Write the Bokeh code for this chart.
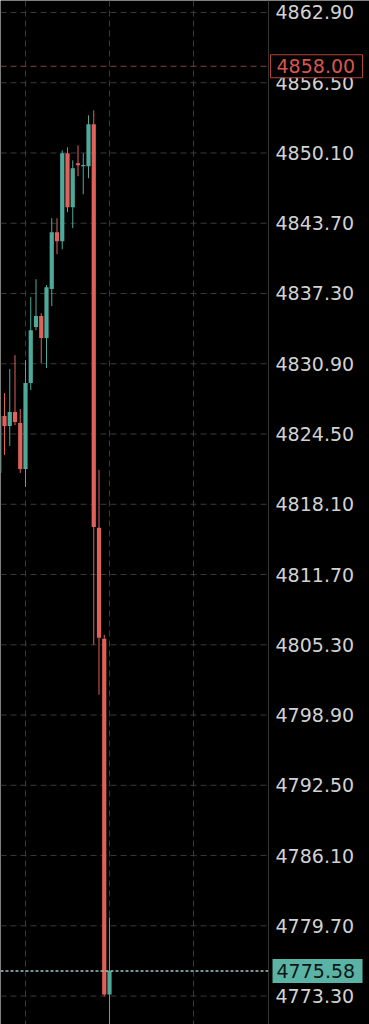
from bokeh.plotting import figure
from bokeh.models import Span, Range1d, ColumnDataSource
from bokeh.core.properties import value
from bokeh.embed import file_html
from bokeh.resources import INLINE

# ---- data ----
idx = list(range(-1, 21))
opens = [4820.95, 4826.14, 4825.23, 4826.50, 4825.50, 4821.32, 4829.14, 4834.24, 4835.24, 4833.24,
         4837.70, 4842.88, 4842.06, 4850.07, 4845.16, 4849.16, 4848.89, 4848.89, 4852.71, 4815.95,
         4805.85, 4773.45]
highs = [4826.70, 4828.23, 4830.42, 4831.69, 4826.78, 4831.23, 4836.97, 4838.60, 4835.51, 4838.06,
         4844.16, 4844.16, 4850.34, 4850.62, 4849.43, 4850.80, 4850.07, 4853.53, 4853.98, 4821.23,
         4806.21, 4780.46]
lows = [4820.50, 4822.59, 4823.41, 4825.30, 4820.95, 4819.68, 4828.50, 4833.96, 4830.96, 4830.51,
        4836.15, 4840.88, 4841.33, 4844.70, 4843.25, 4847.98, 4846.34, 4847.80, 4805.30, 4800.75,
        4773.27, 4769.00]
closes = [4826.14, 4825.23, 4826.50, 4825.59, 4821.32, 4829.14, 4833.96, 4835.24, 4833.24, 4837.88,
          4842.88, 4842.06, 4850.07, 4845.16, 4848.71, 4848.98, 4849.00, 4852.71, 4816.04, 4805.94,
          4773.45, 4775.58]

y_ticks = [4773.30, 4779.70, 4786.10, 4792.50, 4798.90, 4805.30, 4811.70, 4818.10,
           4824.50, 4830.90, 4837.30, 4843.70, 4850.10, 4856.50, 4862.90]
y_tick_labels = ["4773.30", "4779.70", "4786.10", "4792.50", "4798.90", "4805.30", "4811.70",
                 "4818.10", "4824.50", "4830.90", "4837.30", "4843.70", "4850.10", "4856.50",
                 "4862.90"]
x_grid_ticks = [4, 20, 36]
ask_price = 4858.00
ask_label = "4858.00"
last_price = 4775.58
last_label = "4775.58"

UP = "#4ea99b"
DOWN = "#e0605a"
GRID = "#3a3a3a"
FONT = value("DejaVu Sans")

X_LEFT = -0.762          # left edge of the plot area (in bar units)
AXIS_X = 50.29           # where the price scale begins
PX = 1 / 5.25            # one screen pixel in bar units
Y_LO, Y_HI = 4770.71, 4863.99

colors = [UP if c >= o else DOWN for o, c in zip(opens, closes)]
src = ColumnDataSource(dict(
    x=idx, o=opens, h=highs, l=lows, c=closes,
    top=[max(o, c) for o, c in zip(opens, closes)],
    bot=[min(o, c) for o, c in zip(opens, closes)],
    col=colors,
))

p = figure(width=369, height=1024, output_backend="svg", toolbar_location=None,
           x_range=Range1d(X_LEFT, X_LEFT + 369 * PX), y_range=Range1d(Y_LO, Y_HI),
           x_axis_location=None, y_axis_location=None,
           min_border=0, min_border_left=0, min_border_right=0, min_border_top=0, min_border_bottom=0,
           background_fill_color="black", border_fill_color="black", outline_line_color=None)
p.grid.visible = False

# grid (drawn beneath the candles)
p.segment(x0=X_LEFT, x1=AXIS_X, y0=y_ticks, y1=y_ticks, line_color=GRID, line_dash="6 4", line_width=1)
p.segment(x0=x_grid_ticks, x1=x_grid_ticks, y0=Y_HI, y1=Y_LO, line_color=GRID, line_dash="6 4",
          line_width=1)

# price-scale border
p.add_layout(Span(location=AXIS_X, dimension="height", line_color="#363636", line_width=1))

# candles
p.segment(x0="x", y0="l", x1="x", y1="h", color="col", line_width=1, source=src)
p.vbar(x="x", width=0.8, top="top", bottom="bot", fill_color="col", line_color=None, source=src)

# price lines
p.segment(x0=[X_LEFT], x1=[AXIS_X], y0=[ask_price], y1=[ask_price], line_color="#7a4644",
          line_dash="6 4", line_width=1)
p.segment(x0=[X_LEFT], x1=[AXIS_X], y0=[last_price], y1=[last_price], line_color="#9ec4bf",
          line_dash="3 2", line_width=1.5)

# price-scale tick labels
p.text(x=AXIS_X + 7 * PX, y=y_ticks, text=y_tick_labels, text_align="left", text_baseline="middle",
       text_font=FONT, text_font_size=value("19px"), text_color="#d2d2d2")

# ask label (red outline)
p.rect(x=[AXIS_X + 48 * PX], y=[ask_price], width=92, height=23, width_units="screen",
       height_units="screen", fill_color="black", line_color="#b9443d", line_width=1)
p.text(x=[AXIS_X + 8 * PX], y=[ask_price], text=[ask_label], text_align="left", text_baseline="middle",
       text_font=FONT, text_font_size=value("19px"), text_color="#d9564f")

# last price label (teal fill)
p.rect(x=[AXIS_X + 49 * PX], y=[last_price], width=90, height=24, width_units="screen",
       height_units="screen", fill_color="#5bb3a6", line_color=None)
p.text(x=[AXIS_X + 8 * PX], y=[last_price], text=[last_label], text_align="left", text_baseline="middle",
       text_font=FONT, text_font_size=value("19px"), text_color="#0b1714")

open("out.html", "w").write(file_html(p, INLINE))
